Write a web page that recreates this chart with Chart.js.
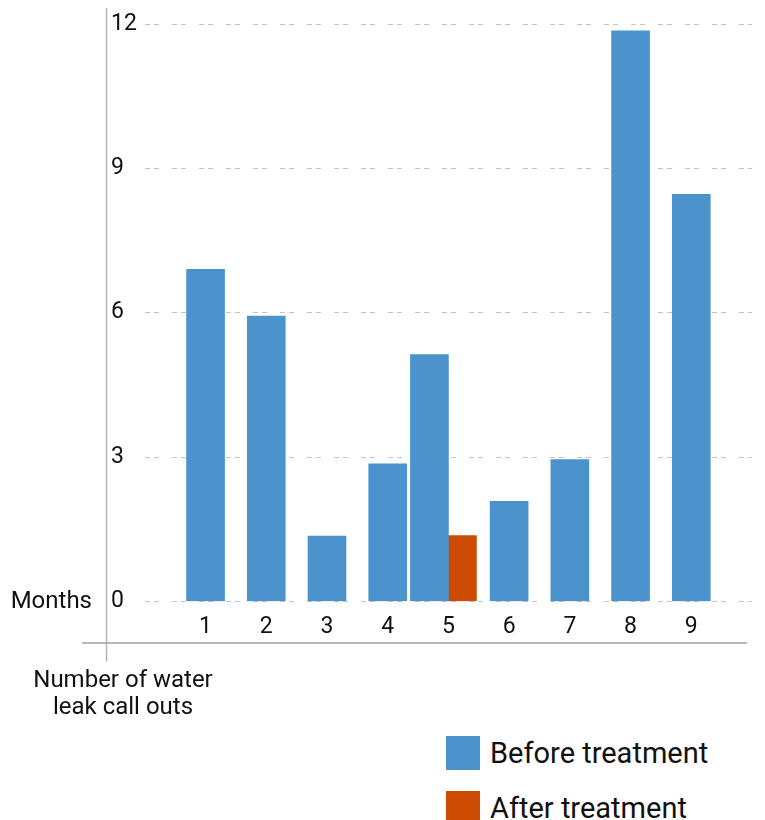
<!DOCTYPE html>
<html>
<head>
<meta charset="utf-8">
<script src="https://cdn.jsdelivr.net/npm/chart.js@4.4.1/dist/chart.umd.min.js"></script>
<style>
  html, body { margin: 0; padding: 0; background: #fff; }
  #wrap { position: relative; width: 765px; height: 820px; overflow: hidden; }
  #c { display: block; }
  #legend { position: absolute; left: 446px; top: 736px; margin: 0; padding: 0; list-style: none;
            font-family: Roboto, sans-serif; font-size: 29px; color: #111; }
  #legend li { display: flex; align-items: center; height: 34px; margin-bottom: 21px; }
  #legend .sw { width: 34px; height: 34px; margin-right: 10px; flex: none; }
</style>
</head>
<body>
<div id="wrap">
  <canvas id="c" width="765" height="730"></canvas>
  <ul id="legend"></ul>
</div>
<script>
// Months on the horizontal axis
const months = [1, 2, 3, 4, 5, 6, 7, 8, 9];
// Water leak call outs per month
const beforeTreatment = [6.9, 5.93, 1.36, 2.86, 5.13, 2.08, 2.95, 11.86, 8.46];
const afterTreatment  = [null, null, null, null, 1.37, null, null, null, null];
// Value axis ticks
const yTicks = [0, 3, 6, 9, 12];

const seriesNames = ['Before treatment', 'After treatment'];
const seriesColors = ['#4b93cc', '#cc4b00'];

const toPoints = vals => months.map((m, i) => ({ x: m, y: vals[i] }));

const FONT = 'Roboto, sans-serif';
Chart.defaults.font.family = FONT;
Chart.defaults.color = '#111';

// Axis lines and free-standing captions
const decorations = {
  id: 'decorations',
  afterDraw(chart) {
    const { ctx, chartArea, scales } = chart;
    const y = scales.y;
    const zeroY = y.getPixelForValue(0);
    ctx.save();
    // vertical axis line
    ctx.strokeStyle = '#b4b4b4';
    ctx.lineWidth = 1.5;
    ctx.beginPath();
    const ax = y.left - 4.5;
    ctx.moveTo(ax, chartArea.top - 16);
    ctx.lineTo(ax, chartArea.bottom + 60);
    ctx.stroke();
    // horizontal axis line
    ctx.strokeStyle = '#a0a0a0';
    ctx.beginPath();
    const hy = chartArea.bottom + 41.5;
    ctx.moveTo(y.left - 29, hy);
    ctx.lineTo(chartArea.right - 5, hy);
    ctx.stroke();
    // captions
    ctx.fillStyle = '#111';
    ctx.font = '24px ' + FONT;
    ctx.textBaseline = 'alphabetic';
    ctx.textAlign = 'right';
    ctx.fillText('Months', y.left - 19, zeroY + 7);
    ctx.textAlign = 'center';
    ctx.fillText('Number of water', y.left + 12, chartArea.bottom + 86);
    ctx.fillText('leak call outs', y.left + 12, chartArea.bottom + 113);
    ctx.restore();
  }
};

const chart = new Chart(document.getElementById('c'), {
  type: 'bar',
  data: {
    datasets: [
      { label: seriesNames[0], data: toPoints(beforeTreatment), backgroundColor: seriesColors[0], barThickness: 38 },
      { label: seriesNames[1], data: toPoints(afterTreatment), backgroundColor: seriesColors[1], barThickness: 28 }
    ]
  },
  options: {
    responsive: false,
    devicePixelRatio: 1,
    animation: false,
    skipNull: true,
    layout: { padding: { left: 111, right: 13, top: 24, bottom: 77 } },
    plugins: { legend: { display: false }, tooltip: { enabled: false } },
    scales: {
      x: {
        type: 'linear',
        min: 0,
        max: 10,
        offset: false,
        afterBuildTicks: s => { s.ticks = months.map(v => ({ value: v })); },
        grid: { display: false, drawTicks: false },
        border: { display: false },
        ticks: { padding: 12, font: { size: 23 }, color: '#111' }
      },
      y: {
        min: 0,
        max: 12,
        afterBuildTicks: s => { s.ticks = yTicks.map(v => ({ value: v })); },
        grid: { color: '#c4c4c4', lineWidth: 1, drawTicks: false },
        border: { display: false, dash: [5, 4, 5, 13] },
        ticks: { padding: 4, crossAlign: 'far', font: { size: 23 }, color: '#111' }
      }
    }
  },
  plugins: [decorations]
});

// legend built from the chart's datasets
const legendEl = document.getElementById('legend');
chart.data.datasets.forEach(ds => {
  const li = document.createElement('li');
  const sw = document.createElement('span');
  sw.className = 'sw';
  sw.style.background = ds.backgroundColor;
  li.appendChild(sw);
  li.appendChild(document.createTextNode(ds.label));
  legendEl.appendChild(li);
});
</script>
</body>
</html>
